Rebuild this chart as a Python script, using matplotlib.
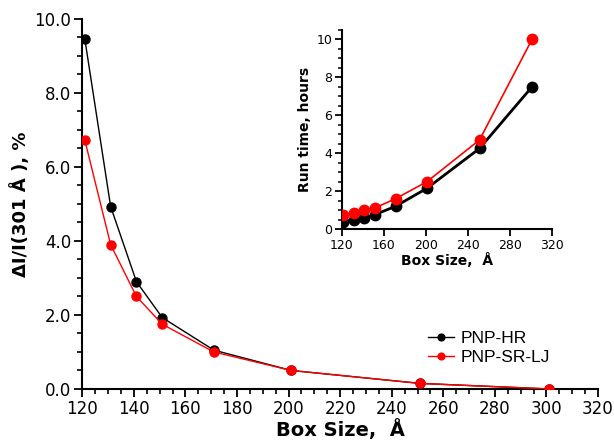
import matplotlib
matplotlib.use("Agg")
import matplotlib.pyplot as plt
from matplotlib.ticker import MultipleLocator, FormatStrFormatter

box_size = [121, 131, 141, 151, 171, 201, 251, 301]
dI_hr = [9.45, 4.93, 2.9, 1.93, 1.05, 0.5, 0.15, 0.0]
dI_srlj = [6.72, 3.9, 2.5, 1.75, 1.0, 0.5, 0.15, 0.0]
run_hr = [0.35, 0.5, 0.6, 0.75, 1.2, 2.15, 4.25, 7.5]
run_srlj = [0.75, 0.85, 1.0, 1.1, 1.6, 2.5, 4.7, 10.0]

plt.rcParams['font.family'] = ['DejaVu Sans']

fig = plt.figure(figsize=(6.14, 4.40), dpi=100)
ax = fig.add_axes([0.134, 0.116, 0.840, 0.841])

ax.plot(box_size, dI_hr, color='black', lw=1.0, marker='o', ms=6.5, label='PNP-HR', zorder=3)
ax.plot(box_size, dI_srlj, color='red', lw=1.0, marker='o', ms=6.5, label='PNP-SR-LJ', zorder=4)
ax.set_xlim(120, 320)
ax.set_ylim(0, 10)
ax.xaxis.set_major_locator(MultipleLocator(20))
ax.xaxis.set_minor_locator(MultipleLocator(5))
ax.yaxis.set_major_locator(MultipleLocator(2))
ax.yaxis.set_minor_locator(MultipleLocator(0.5))
ax.yaxis.set_major_formatter(FormatStrFormatter('%.1f'))
for s in ['top', 'right']:
    ax.spines[s].set_visible(False)
for s in ['left', 'bottom']:
    ax.spines[s].set_linewidth(1.5)
ax.tick_params(which='major', direction='out', length=6, width=1.3, labelsize=12, pad=2)
ax.tick_params(which='minor', direction='out', length=3.5, width=1.2)
ax.set_xlabel('Box Size,  Å', fontsize=14, fontweight='bold', labelpad=1)
ax.set_ylabel('ΔI/I(301 Å ), %', fontsize=13, fontweight='bold', labelpad=3)
leg = ax.legend(loc='upper left', bbox_to_anchor=(0.683, 0.268), bbox_transform=fig.transFigure,
                frameon=False, prop={'family': 'Liberation Sans', 'size': 12.5},
                handlelength=1.5, handletextpad=0.4, labelspacing=0.25, borderpad=0,
                markerscale=0.75)

ins = fig.add_axes([0.557, 0.4795, 0.342, 0.4525])
ins.plot(box_size, run_hr, color='black', lw=2.0, marker='o', ms=7.5, zorder=3)
ins.plot(box_size, run_srlj, color='red', lw=1.2, marker='o', ms=7.5, zorder=4)
ins.set_xlim(120, 320)
ins.set_ylim(0, 10.5)
ins.xaxis.set_major_locator(MultipleLocator(40))
ins.yaxis.set_major_locator(MultipleLocator(2))
ins.yaxis.set_minor_locator(MultipleLocator(0.5))
for s in ['top', 'right']:
    ins.spines[s].set_visible(False)
for s in ['left', 'bottom']:
    ins.spines[s].set_linewidth(1.5)
ins.tick_params(which='major', direction='out', length=5, width=1.3, labelsize=9, pad=2)
ins.tick_params(which='minor', direction='out', length=3, width=1.1)
ins.set_xlabel('Box Size,  Å', fontsize=10, fontweight='bold', labelpad=1)
ins.set_ylabel('Run time, hours', fontsize=10, fontweight='bold', labelpad=3)

fig.savefig('out.png', dpi=100)
